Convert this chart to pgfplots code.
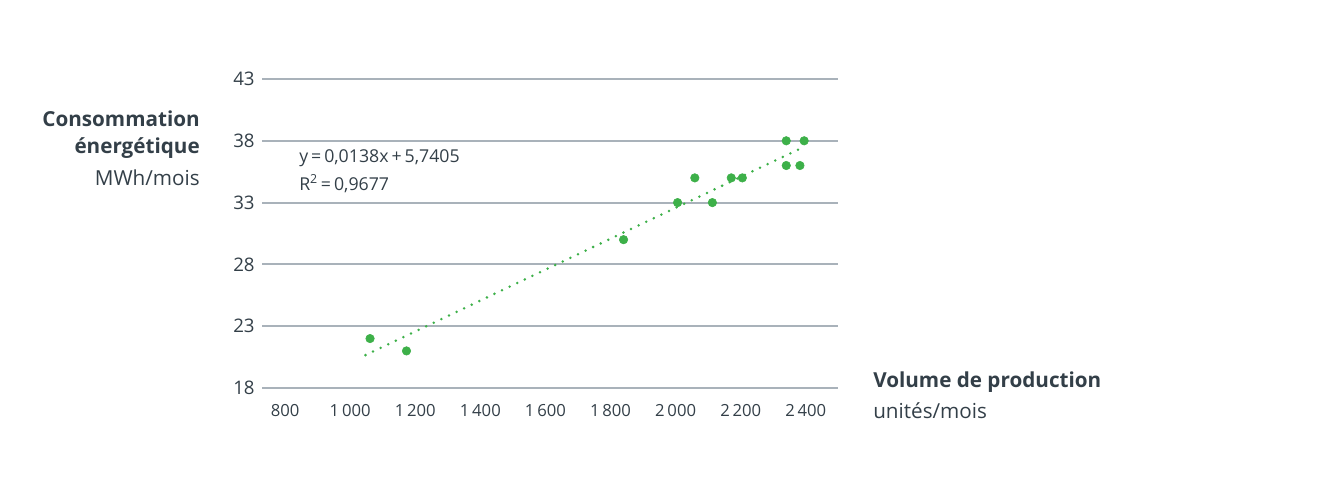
\documentclass[border=0pt]{standalone}
\usepackage{fontspec}
\setmainfont{Open Sans}
\usepackage{pgfplots}
\pgfplotsset{compat=1.18}
\definecolor{txt}{HTML}{333F48}
\definecolor{gridc}{HTML}{A9B2BA}
\definecolor{grn}{HTML}{3DB049}
\begin{document}
\begin{tikzpicture}[x=0.75pt,y=0.75pt]
\useasboundingbox (0,0) rectangle (1340,476);
\begin{axis}[
  at={(196.5pt,66pt)}, anchor=south west,
  scale only axis, width=432pt, height=231.75pt,
  xmin=729, xmax=2499, ymin=18, ymax=43,
  axis line style={draw=none},
  major tick length=0pt,
  ytick={18,23,28,33,38,43},
  xtick={800,1000,...,2400},
  ymajorgrids, grid style={gridc, line width=1.4pt},
  /pgf/number format/assume math mode=true,
  /pgf/number format/1000 sep={\,},
  tick label style={font=\fontsize{14}{16}\selectfont, text=txt},
  xticklabel style={font=\fontsize{12.5}{14}\selectfont, yshift=-9pt},
  yticklabel style={xshift=-2pt},
  clip=false,
]
\addplot[grn, only marks, mark=*, mark size=3.2pt, mark options={draw=grn, fill=grn}] coordinates {
(1061,22) (1173,21) (1840,30) (2006,33) (2059,35) (2113,33)
(2171,35) (2205,35) (2340,38) (2395,38) (2340,36) (2382,36)
};
\addplot[grn, line width=2.1pt, line cap=round, dash pattern=on 0pt off 6.3pt] coordinates {
(1047,20.66) (2393,37.49)
};
\end{axis}
\node[anchor=west, text=txt, font=\fontsize{13.3}{15}\selectfont, inner sep=0pt] at (299,318) {y\,=\,0,0138x\,+\,5,7405};
\node[anchor=west, text=txt, font=\fontsize{13.3}{15}\selectfont, inner sep=0pt] at (299,292) {R\textsuperscript{2}\,=\,0,9677};
\node[anchor=east, text=txt, font=\bfseries\fontsize{15.5}{18}\selectfont, inner sep=0pt] at (200,357) {Consommation};
\node[anchor=east, text=txt, font=\bfseries\fontsize{15.5}{18}\selectfont, inner sep=0pt] at (200,328) {énergétique};
\node[anchor=east, text=txt, font=\fontsize{15.5}{18}\selectfont, inner sep=0pt] at (200,298) {MWh/mois};
\node[anchor=west, text=txt, font=\bfseries\fontsize{15.5}{18}\selectfont, inner sep=0pt] at (873,94) {Volume de production};
\node[anchor=west, text=txt, font=\fontsize{15.5}{18}\selectfont, inner sep=0pt] at (873,65) {unités/mois};
\end{tikzpicture}
\end{document}
